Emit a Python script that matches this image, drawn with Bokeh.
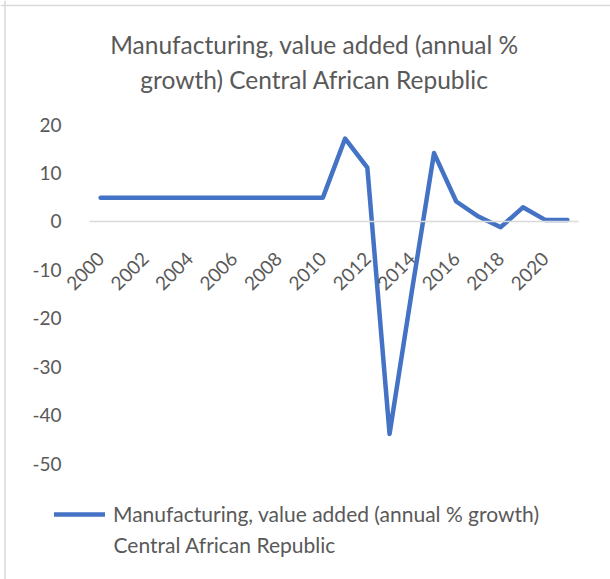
import math
from bokeh.plotting import figure
from bokeh.models import (FixedTicker, Label, Legend, LegendItem, Range1d, Span)
from bokeh.embed import file_html
from bokeh.resources import INLINE

# ---- data ----
years = [2000, 2001, 2002, 2003, 2004, 2005, 2006, 2007, 2008, 2009, 2010,
         2011, 2012, 2013, 2014, 2015, 2016, 2017, 2018, 2019, 2020, 2021]
growth = [4.9, 4.9, 4.9, 4.9, 4.9, 4.9, 4.9, 4.9, 4.9, 4.9, 4.9,
          17.1, 11.1, -43.9, -14.5, 14.1, 4.1, 1.0, -1.2, 2.9, 0.3, 0.3]
y_ticks = [-50, -40, -30, -20, -10, 0, 10, 20]
x_tick_years = [2000, 2002, 2004, 2006, 2008, 2010, 2012, 2014, 2016, 2018, 2020]
title_lines = ["Manufacturing, value added (annual %", "growth) Central African Republic"]
legend_lines = ["Manufacturing, value added (annual % growth)", "Central African Republic"]

# ---- layout (pixels) ----
W, H = 610, 579
PL, PR, PT, PB = 89, 578, 124, 463   # plot-area edges
FONT = "Lato"
TXT = "#595959"
LINE = "#4472C4"
BORDER = "#d9d9d9"

dx0, dx1 = years[0] - 0.5, years[-1] + 0.5
dy0, dy1 = y_ticks[0], y_ticks[-1]
sx = (PR - PL) / (dx1 - dx0)
sy = (PB - PT) / (dy1 - dy0)

def px_to_x(px):
    return dx0 + (px - PL) / sx

def py_to_y(py):
    return dy1 - (py - PT) / sy

p = figure(width=W, height=H, output_backend="svg", toolbar_location=None,
           x_range=Range1d(px_to_x(0), px_to_x(W)),
           y_range=Range1d(py_to_y(H), py_to_y(0)),
           min_border_left=0, min_border_right=0,
           min_border_top=0, min_border_bottom=0)
p.outline_line_color = None
p.xgrid.visible = False
p.ygrid.visible = False
p.background_fill_color = "white"
p.border_fill_color = "white"

# chart-area border (left and top edges visible)
p.add_layout(Span(location=px_to_x(4.5), dimension="height", line_color=BORDER, line_width=1.5))
p.add_layout(Span(location=py_to_y(5), dimension="width", line_color=BORDER, line_width=1.5))

# y axis
yax = p.yaxis[0]
yax.fixed_location = dx0
yax.ticker = FixedTicker(ticks=y_ticks)
yax.major_label_overrides = {t: str(t) for t in y_ticks}
yax.axis_line_color = None
yax.major_tick_line_color = None
yax.minor_tick_line_color = None
yax.major_label_standoff = 22
yax.major_label_text_font = FONT
yax.major_label_text_font_size = "19px"
yax.major_label_text_color = TXT

# x axis at zero
xax = p.xaxis[0]
xax.fixed_location = 0
xax.bounds = (dx0, dx1)
xax.ticker = FixedTicker(ticks=x_tick_years)
xax.major_label_overrides = {y: str(y) for y in x_tick_years}
xax.axis_line_color = BORDER
xax.axis_line_width = 1.5
xax.major_tick_line_color = None
xax.minor_tick_line_color = None
xax.major_label_orientation = math.pi / 4
xax.major_label_standoff = 28
xax.major_label_text_font = FONT
xax.major_label_text_font_size = "19px"
xax.major_label_text_color = TXT

r = p.line(years, growth, line_color=LINE, line_width=4.5, line_join="round", line_cap="round")

# title
for i, t in enumerate(title_lines):
    p.add_layout(Label(x=px_to_x(314), y=py_to_y(44 + 35 * i), text=t, text_align="center",
                       text_baseline="middle", text_font=FONT, text_font_size="24.5px",
                       text_color=TXT))

# legend (first line with glyph, second line as continuation text)
leg = Legend(items=[LegendItem(label=legend_lines[0], renderers=[r])],
             location=(54, H - 526), orientation="vertical",
             glyph_width=51, padding=0, margin=0, spacing=0, label_standoff=8,
             border_line_color=None, background_fill_alpha=0,
             label_text_font=FONT, label_text_font_size="21px", label_text_color=TXT)
p.add_layout(leg)
p.add_layout(Label(x=px_to_x(113), y=py_to_y(544), text=legend_lines[1], text_align="left",
                   text_baseline="middle", text_font=FONT, text_font_size="21px",
                   text_color=TXT))

open("out.html", "w").write(file_html(p, INLINE))
